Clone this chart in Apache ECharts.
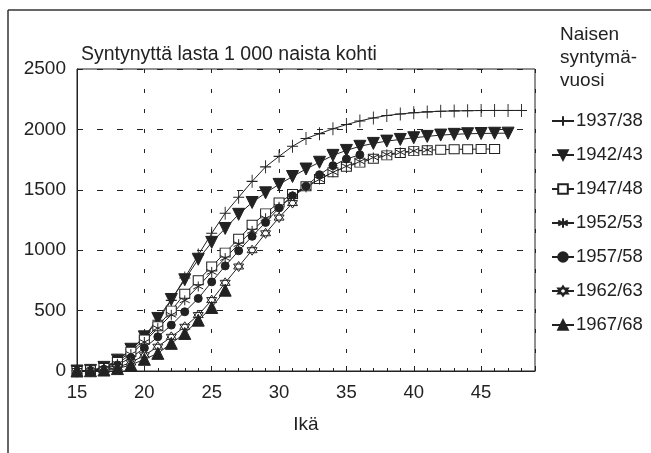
<!DOCTYPE html>
<html>
<head>
<meta charset="utf-8">
<script src="https://cdn.jsdelivr.net/npm/echarts@6/dist/echarts.min.js"></script>
<style>
  html, body { margin: 0; padding: 0; background: #fff; }
  #main { width: 651px; height: 453px; }
</style>
</head>
<body>
<div id="main"></div>
<script>
// ages (x axis), one point per year
const ages = [15, 16, 17, 18, 19, 20, 21, 22, 23, 24, 25, 26, 27, 28, 29, 30, 31,
  32, 33, 34, 35, 36, 37, 38, 39, 40, 41, 42, 43, 44, 45, 46, 47, 48];

const cohorts = ['1937/38', '1942/43', '1947/48', '1952/53', '1957/58', '1962/63', '1967/68'];

// cumulative births per 1000 women
const v1937 = [0, 5, 25, 85, 175, 280, 420, 585, 770, 960, 1140, 1306, 1438, 1570, 1690, 1777, 1860,
  1925, 1965, 2005, 2040, 2070, 2095, 2115, 2128, 2138, 2145, 2150, 2153, 2155, 2156, 2157, 2157, 2157];
const v1942 = [0, 5, 30, 90, 180, 283, 435, 592, 755, 925, 1065, 1180, 1297, 1395, 1475, 1545, 1610,
  1672, 1728, 1785, 1826, 1860, 1884, 1903, 1917, 1931, 1942, 1953, 1959, 1964, 1966, 1968, 1969];
const v1947 = [0, 5, 25, 75, 160, 260, 370, 500, 640, 752, 865, 980, 1095, 1210, 1305, 1395, 1465,
  1530, 1590, 1645, 1690, 1725, 1757, 1785, 1805, 1820, 1828, 1832, 1835, 1836, 1837, 1838];
const v1952 = [0, 4, 20, 60, 140, 240, 355, 465, 585, 700, 820, 935, 1050, 1160, 1265, 1360, 1445,
  1520, 1585, 1645, 1695, 1735, 1768, 1793, 1810, 1822, 1830];
const v1957 = [0, 3, 15, 50, 110, 190, 283, 380, 490, 601, 738, 870, 995, 1115, 1230, 1350, 1450,
  1530, 1625, 1700, 1755, 1790];
const v1962 = [0, 2, 10, 30, 70, 130, 201, 283, 366, 463, 587, 730, 865, 1000, 1140, 1270, 1390];
const v1967 = [0, 2, 8, 20, 50, 97, 146, 229, 311, 421, 526, 669];

const yTicks = [0, 500, 1000, 1500, 2000, 2500];

const ink = '#222';
const font = "'Liberation Sans', Arial, sans-serif";

const plusPath = 'path://M0,5L10,5M5,0L5,10';
const starPath = 'path://M5,0L5,10M0.7,2.5L9.3,7.5M0.7,7.5L9.3,2.5';
const hexPath = 'path://M5,0L9.33,7.5L0.67,7.5Z M5,10L0.67,2.5L9.33,2.5Z';

function pts(vals) {
  return vals.map((v, i) => [ages[i], v]);
}

function mkSeries(name, vals, symbol, size, fill, rotate) {
  return {
    name: name,
    type: 'line',
    data: pts(vals),
    symbol: symbol,
    symbolSize: size,
    symbolRotate: rotate || 0,
    showAllSymbol: true,
    lineStyle: { color: ink, width: 1 },
    itemStyle: { color: fill, borderColor: ink, borderWidth: 1 },
    emphasis: { disabled: true }
  };
}

const chart = echarts.init(document.getElementById('main'));

chart.setOption({
  animation: false,
  textStyle: { fontFamily: font },
  title: [
    {
      text: 'Syntynyttä lasta 1 000 naista kohti',
      left: 76, top: 40,
      textStyle: { fontSize: 19.5, fontWeight: 'normal', color: ink, fontFamily: font }
    },
    {
      text: 'Naisen\nsyntymä-\nvuosi',
      left: 555, top: 18,
      textStyle: { fontSize: 19, fontWeight: 'normal', color: ink, lineHeight: 23, fontFamily: font }
    }
  ],
  graphic: [
    { type: 'line', shape: { x1: 8, y1: 10, x2: 651, y2: 10 }, style: { stroke: '#333', lineWidth: 1.5 } },
    { type: 'line', shape: { x1: 8, y1: 10, x2: 8, y2: 453 }, style: { stroke: '#333', lineWidth: 1.5 } }
  ],
  legend: {
    orient: 'vertical',
    left: 546, top: 106,
    itemWidth: 22, itemHeight: 12,
    itemGap: 14,
    data: cohorts,
    textStyle: { fontSize: 18.5, color: ink, lineHeight: 20, fontFamily: font, padding: [0, 0, 0, -3] }
  },
  grid: {
    left: 77, top: 69, right: 116, bottom: 82,
    show: true, borderColor: ink, borderWidth: 1, backgroundColor: 'transparent'
  },
  xAxis: {
    type: 'value',
    min: 15, max: 49, interval: 5,
    name: 'Ikä', nameLocation: 'middle', nameGap: 44,
    nameTextStyle: { fontSize: 19, color: ink, fontFamily: font },
    axisLine: { lineStyle: { color: ink } },
    axisTick: { show: true, inside: true, length: 5, lineStyle: { color: ink } },
    minorTick: { show: true, splitNumber: 5, length: 3, lineStyle: { color: ink } },
    axisLabel: { fontSize: 18.5, color: ink, margin: 12, showMaxLabel: false, fontFamily: font },
    splitLine: { show: true, lineStyle: { color: ink, type: [4, 16], width: 1 } }
  },
  yAxis: {
    type: 'value',
    min: yTicks[0], max: yTicks[yTicks.length - 1], interval: 500,
    axisLine: { show: true, lineStyle: { color: ink } },
    axisTick: { show: false },
    axisLabel: { fontSize: 19, color: ink, margin: 11, fontFamily: font, formatter: v => String(v) },
    splitLine: { show: true, lineStyle: { color: ink, type: [6, 14], width: 1 } }
  },
  series: [
    mkSeries(cohorts[0], v1937, plusPath, [11, 13], '#fff'),
    mkSeries(cohorts[1], v1942, 'triangle', 12, ink, 180),
    mkSeries(cohorts[2], v1947, 'rect', [10, 9], '#fff'),
    mkSeries(cohorts[3], v1952, starPath, 10, '#fff'),
    mkSeries(cohorts[4], v1957, 'circle', 8, ink),
    mkSeries(cohorts[5], v1962, hexPath, 10, '#fff'),
    mkSeries(cohorts[6], v1967, 'triangle', 12, ink)
  ]
});
</script>
</body>
</html>
